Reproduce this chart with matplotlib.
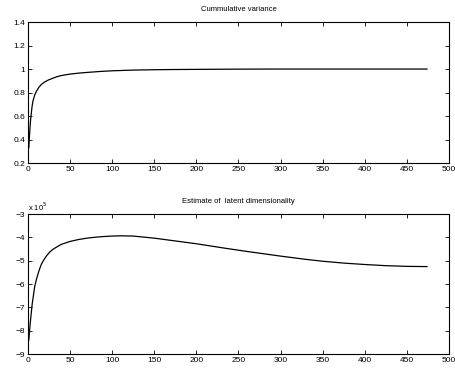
import matplotlib
matplotlib.use("Agg")
import matplotlib.pyplot as plt
from matplotlib.ticker import FuncFormatter

plt.rcParams['font.family'] = ['Liberation Sans', 'DejaVu Sans']
plt.rcParams['font.size'] = 6

# cumulative variance
cv_x = [1, 2, 3, 4, 5, 6, 8, 10, 13, 16, 20, 24, 29, 34, 40, 50, 60, 70, 85, 100, 125, 150, 175, 200, 250, 300, 350, 400, 450, 474]
cv_y = [0.33, 0.46, 0.56, 0.63, 0.69, 0.73, 0.78, 0.81, 0.845, 0.87, 0.89, 0.906, 0.92, 0.934, 0.945, 0.957, 0.965, 0.971, 0.979, 0.985, 0.991, 0.994, 0.996, 0.997, 0.999, 1.0, 1.0, 1.0, 1.0, 1.0]

# latent dimensionality estimate
ld_x = [1, 2, 3, 5, 8, 10, 12, 14, 16, 19, 22, 26, 30, 35, 40, 50, 60, 70, 80, 90, 100, 110, 125, 150, 175, 200, 232, 260, 300, 330, 350, 375, 400, 425, 450, 474]
ld_y = [-8.4e5, -7.95e5, -7.55e5, -6.85e5, -6.1e5, -5.8e5, -5.55e5, -5.33e5, -5.14e5, -4.95e5, -4.79e5, -4.62e5, -4.5e5, -4.39e5, -4.29e5, -4.17e5, -4.09e5, -4.03e5, -3.99e5, -3.96e5, -3.94e5, -3.93e5, -3.94e5, -4.03e5, -4.15e5, -4.27e5, -4.45e5, -4.6e5, -4.8e5, -4.94e5, -5.02e5, -5.1e5, -5.16e5, -5.21e5, -5.24e5, -5.25e5]

fig = plt.figure(figsize=(4.56, 3.71), dpi=100)
ax1 = fig.add_axes([0.0614, 0.5606, 0.923, 0.380])
ax2 = fig.add_axes([0.0614, 0.0458, 0.923, 0.377])

ax1.plot(cv_x, cv_y, color='black', lw=0.9)
ax1.set_xlim(0, 500)
ax1.set_ylim(0.2, 1.4)
ax1.set_yticks([0.2, 0.4, 0.6, 0.8, 1.0, 1.2, 1.4])
ax1.set_yticklabels(['0.2', '0.4', '0.6', '0.8', '1', '1.2', '1.4'])
ax1.set_title('Cummulative variance', fontsize=5.5, pad=8)

ax2.plot(ld_x, ld_y, color='black', lw=0.9)
ax2.set_xlim(0, 500)
ax2.set_ylim(-9e5, -3e5)
ax2.set_yticks([-9e5, -8e5, -7e5, -6e5, -5e5, -4e5, -3e5])
ax2.yaxis.set_major_formatter(FuncFormatter(lambda v, p: '\u2212%d' % round(-v / 1e5)))
ax2.set_title('Estimate of  latent dimensionality', fontsize=5.5, pad=8)
ax2.text(0, 1.01, 'x 10$^5$', transform=ax2.transAxes, fontsize=5.5, va='bottom', ha='left')

for ax in (ax1, ax2):
    ax.set_xticks(range(0, 501, 50))
    ax.tick_params(direction='in', top=True, right=True, length=3, width=0.6, pad=2, labelsize=6)
    for s in ax.spines.values():
        s.set_linewidth(0.8)

fig.savefig('out.png', dpi=100)
